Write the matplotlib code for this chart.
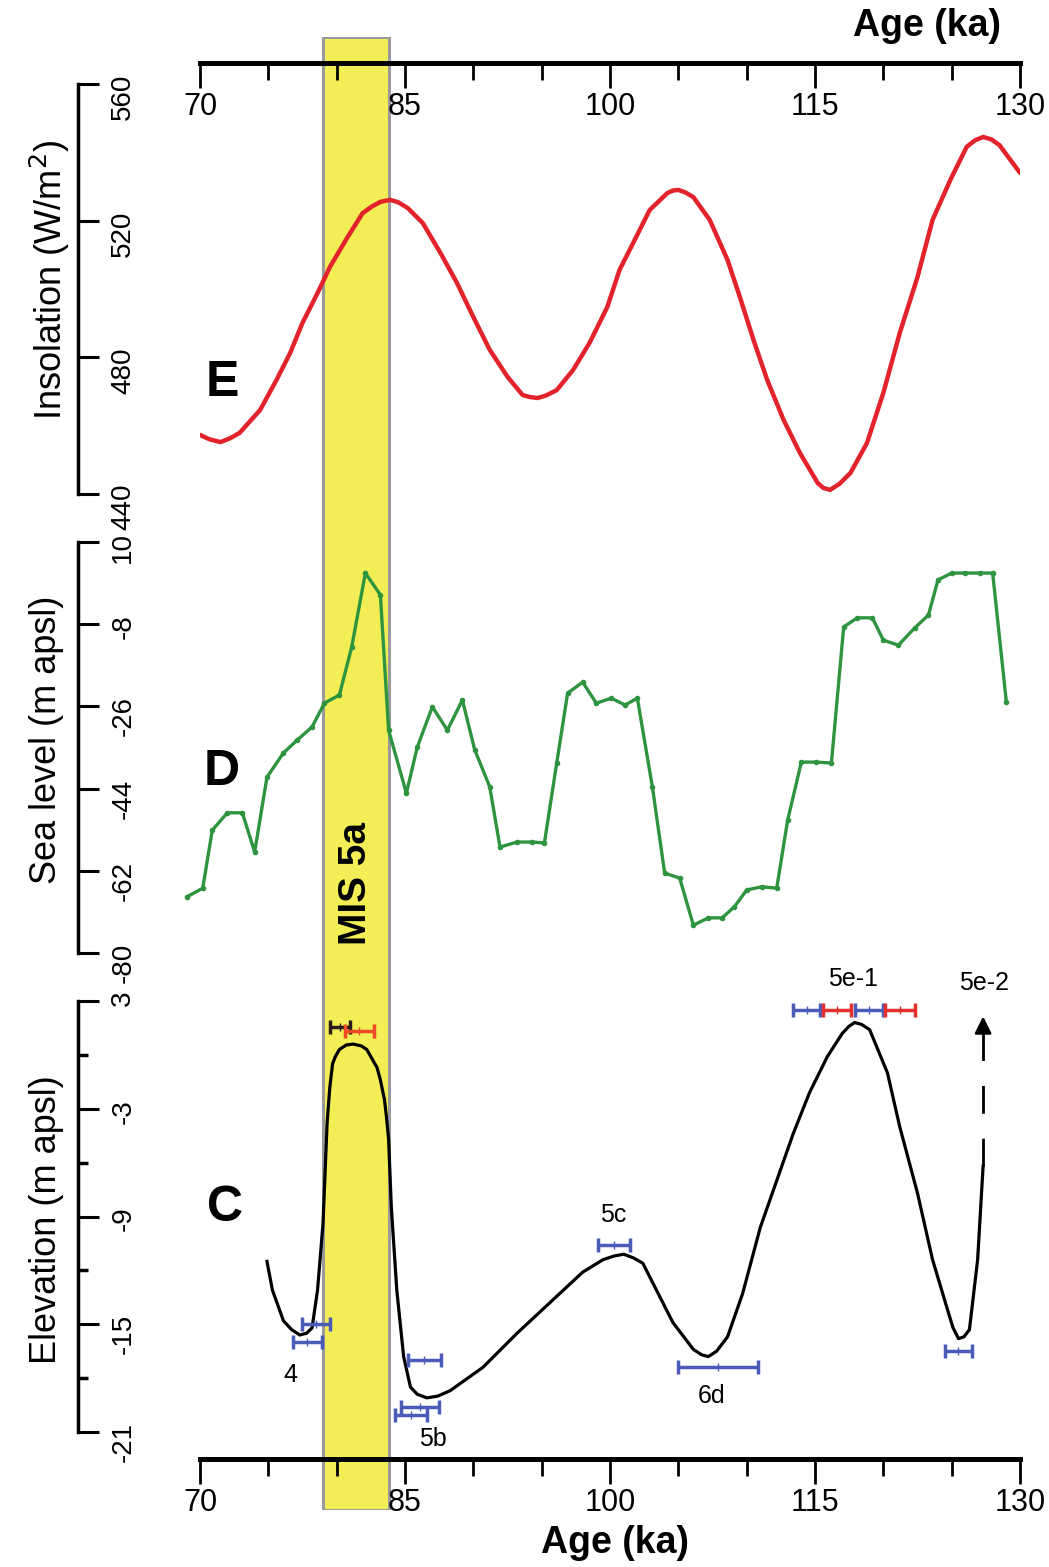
import numpy as np
import matplotlib.pyplot as plt

plt.rcParams['font.family'] = ['Liberation Sans', 'DejaVu Sans']
plt.rcParams['axes.unicode_minus'] = False

# E: insolation (W/m2)
ins_age = [70.0, 70.7, 71.5, 72.2, 72.9, 74.4, 75.6, 76.6, 77.5, 78.6, 79.5, 80.8, 81.9,
           82.6, 83.2, 83.9, 84.5, 85.2, 86.3, 87.6, 88.8, 90.0, 91.2, 92.5, 93.6, 94.1,
           94.7, 95.3, 96.1, 97.3, 98.5, 99.8, 100.7, 101.7, 102.9, 104.2, 104.6, 105.0,
           105.5, 106.1, 107.3, 108.6, 109.5, 110.5, 111.5, 112.7, 113.9, 115.2, 115.6,
           116.1, 116.8, 117.6, 118.8, 120.0, 121.2, 122.5, 123.6, 124.9, 126.1, 126.7,
           127.3, 127.9, 128.5, 130.0]
ins_val = [457.3, 456.0, 455.2, 456.3, 457.9, 464.6, 473.4, 481.3, 490.1, 498.8, 506.4,
           515.2, 522.2, 524.2, 525.5, 526.1, 525.4, 523.7, 519.3, 510.5, 501.8, 491.8,
           482.2, 474.3, 469.0, 468.4, 468.1, 468.8, 470.4, 476.3, 484.2, 494.7, 505.6,
           513.5, 523.1, 528.1, 528.8, 529.0, 528.3, 526.9, 520.2, 508.5, 497.7, 485.1,
           473.4, 461.7, 452.0, 443.2, 441.8, 441.2, 443.0, 446.2, 454.9, 469.6, 487.1,
           503.5, 520.2, 531.9, 541.6, 543.5, 544.5, 543.8, 542.1, 534.0]

# D: sea level (m apsl)
sl_age = [69.05, 70.2, 70.9, 72.0, 73.1, 74.0, 74.9, 76.1, 77.1, 78.2, 79.1, 80.2, 81.1,
          82.1, 83.2, 83.8, 85.1, 85.9, 87.0, 88.1, 89.2, 90.1, 91.2, 91.95, 93.2, 94.3,
          95.2, 96.1, 96.9, 98.0, 99.0, 100.1, 101.1, 102.0, 103.1, 104.0, 105.1, 106.1,
          107.2, 108.2, 109.1, 110.0, 111.1, 112.2, 113.0, 114.0, 115.1, 116.2, 117.1,
          118.1, 119.2, 120.0, 121.1, 122.3, 123.3, 124.0, 125.0, 126.0, 127.1, 128.0, 129.0]
sl_val = [-67.7, -65.8, -53.1, -49.3, -49.3, -57.9, -41.5, -36.2, -33.4, -30.5, -25.3,
          -23.5, -13.0, 3.2, -1.6, -31.2, -45.0, -34.9, -26.1, -31.2, -24.6, -35.5, -43.6,
          -56.8, -55.7, -55.7, -55.9, -38.4, -23.1, -20.7, -25.3, -24.2, -25.7, -24.2,
          -43.6, -62.5, -63.6, -73.9, -72.3, -72.3, -69.9, -66.2, -65.5, -65.8, -50.9,
          -38.2, -38.2, -38.4, -8.6, -6.6, -6.6, -11.5, -12.6, -8.8, -6.0, 1.7, 3.2, 3.2,
          3.2, 3.2, -25.0]

# C: elevation (m apsl)
el_age = [74.9, 75.3, 76.1, 76.7, 77.3, 77.8, 78.2, 78.6, 79.0, 79.3, 79.5, 79.7, 79.9,
          80.2, 80.7, 81.2, 81.8, 82.2, 82.95, 83.2, 83.5, 83.65, 83.8, 84.0, 84.4, 84.9,
          85.4, 85.9, 86.6, 87.4, 88.3, 90.7, 93.2, 95.6, 98.0, 99.5, 100.3, 101.0, 101.7,
          102.4, 103.4, 104.6, 106.1, 106.7, 107.2, 107.8, 108.6, 109.7, 111.0, 112.2,
          113.4, 114.6, 115.9, 117.0, 117.5, 117.9, 118.4, 119.0, 120.3, 121.2, 122.5,
          123.6, 124.7, 125.1, 125.5, 125.9, 126.3, 126.9, 127.3]
el_val = [-11.5, -13.1, -14.8, -15.3, -15.6, -15.5, -15.2, -13.1, -9.4, -3.8, -1.8, -0.5,
          -0.1, 0.3, 0.55, 0.6, 0.5, 0.3, -0.7, -1.4, -2.5, -3.5, -4.7, -8.5, -13.1, -16.8,
          -18.5, -18.9, -19.1, -19.0, -18.7, -17.4, -15.5, -13.8, -12.1, -11.4, -11.2,
          -11.1, -11.3, -11.6, -13.1, -14.9, -16.4, -16.7, -16.8, -16.5, -15.7, -13.3,
          -9.6, -7.0, -4.4, -2.1, -0.1, 1.2, 1.6, 1.8, 1.7, 1.4, -1.0, -4.0, -7.7, -11.4,
          -14.2, -15.2, -15.8, -15.7, -15.3, -11.4, -6.2]

# dating uncertainties (age range, elevation, colour)
bar_lo = [76.8, 77.5, 85.2, 84.7, 84.3, 99.1, 105.0, 124.5, 113.4, 117.9, 115.6, 120.1, 79.5, 80.6]
bar_hi = [78.9, 79.5, 87.6, 87.5, 86.6, 101.5, 110.8, 126.5, 115.4, 120.0, 117.6, 122.3, 81.0, 82.7]
bar_el = [-16.0, -15.0, -17.0, -19.6, -20.05, -10.6, -17.4, -16.5, 2.5, 2.5, 2.5, 2.5, 1.55, 1.35]
bar_col = ['#4B5CB8'] * 10 + ['#E5302E', '#E5302E', '#2a1a1a', '#EE4A2A']

stage_lbl = ['4', '5b', '5c', '6d', '5e-1', '5e-2']
stage_age = [76.6, 87.05, 100.2, 107.4, 117.8, 127.4]
stage_el = [-17.8, -21.4, -8.9, -19.0, 4.2, 4.0]

arrow_age, arrow_from, arrow_to = 127.3, -6.2, 2.3
mis_lo, mis_hi = 79.0, 83.8

W, H = 1049, 1567
fig = plt.figure(figsize=(W / 100, H / 100), dpi=100)


def box(x0, y0, x1, y1):
    return [x0 / W, 1 - y1 / H, (x1 - x0) / W, (y1 - y0) / H]


bg = fig.add_axes(box(200, 37, 1020, 1510), zorder=0)
bg.set_xlim(70, 130)
bg.axis('off')
bg.axvspan(mis_lo, mis_hi, facecolor='#F3EE55', edgecolor='#9a9a9a', lw=2.2)
bg.text((mis_lo + mis_hi) / 2, 0.425, 'MIS 5a', rotation=90, ha='center', va='center',
        fontsize=28, fontweight='bold', transform=bg.get_xaxis_transform())


def panel(y0, y1, ylim, yticks, minor=None):
    ax = fig.add_axes(box(200, y0, 1020, y1), zorder=2)
    ax.patch.set_alpha(0)
    ax.set_xlim(70, 130)
    ax.set_ylim(*ylim)
    for s in ['top', 'right', 'bottom']:
        ax.spines[s].set_visible(False)
    ax.spines['left'].set_position(('axes', -122 / 820))
    ax.spines['left'].set_linewidth(2.5)
    ax.set_xticks([])
    ax.set_yticks(yticks)
    if minor is not None:
        ax.set_yticks(minor, minor=True)
        ax.tick_params(axis='y', which='minor', direction='in', length=7, width=2.5)
    ax.tick_params(axis='y', which='major', direction='in', length=15, width=2.2,
                   labelsize=20, labelrotation=90, pad=-42)
    return ax


# E
axE = panel(84, 494, (440, 560), [440, 480, 520, 560])
axE.plot(ins_age, ins_val, color='#E3232B', lw=3.2, solid_capstyle='round',
         solid_joinstyle='round')
axE.text(0.027, 0.27, 'E', transform=axE.transAxes, fontsize=36, fontweight='bold',
         ha='center', va='center')

# D
axD = panel(542, 953, (-80, 10), [-80, -62, -44, -26, -8, 10])
axD.plot(sl_age, sl_val, color='#2E9440', lw=2.4, marker='o', ms=3, clip_on=False)
axD.text(0.027, 0.44, 'D', transform=axD.transAxes, fontsize=36, fontweight='bold',
         ha='center', va='center')

# C
axC = panel(1001, 1432, (-21, 3), [-21, -15, -9, -3, 3], minor=[-18, -12, -6, 0])
axC.plot(el_age, el_val, color='black', lw=2.3, solid_joinstyle='round')
axC.plot([arrow_age, arrow_age], [arrow_from, arrow_to - 1.0], color='black', lw=2,
         dashes=(10, 9))
axC.annotate('', xy=(arrow_age, arrow_to), xytext=(arrow_age, arrow_to - 1.2),
             arrowprops=dict(arrowstyle='-|>', color='black', lw=2, mutation_scale=25))
for lo, hi, y, c in zip(bar_lo, bar_hi, bar_el, bar_col):
    axC.errorbar((lo + hi) / 2, y, xerr=(hi - lo) / 2, fmt='|', ms=6, color=c,
                 ecolor=c, elinewidth=2.5, capsize=5, capthick=2.5, clip_on=False)
for t, a, e in zip(stage_lbl, stage_age, stage_el):
    axC.text(a, e, t, ha='center', va='center', fontsize=18)
axC.text(0.03, 0.52, 'C', transform=axC.transAxes, fontsize=36, fontweight='bold',
         ha='center', va='center')

# age axes, top and bottom
for yline in (62, 1458):
    ax = fig.add_axes(box(200, yline - 0.5, 1020, yline + 0.5), zorder=1)
    ax.patch.set_alpha(0)
    ax.set_xlim(70, 130)
    for s in ['top', 'right', 'left']:
        ax.spines[s].set_visible(False)
    ax.spines['bottom'].set_linewidth(3.6)
    ax.set_yticks([])
    ax.set_xticks([70, 85, 100, 115, 130])
    ax.set_xticks(np.arange(70, 131, 5), minor=True)
    ax.tick_params(axis='x', which='major', direction='out', length=18, width=2,
                   labelsize=22, pad=3)
    ax.tick_params(axis='x', which='minor', direction='out', length=12, width=2)

fig.text(927 / W, 1 - 26 / H, 'Age (ka)', ha='center', va='center', fontsize=27,
         fontweight='bold')
fig.text(615 / W, 1 - 1543 / H, 'Age (ka)', ha='center', va='center', fontsize=27,
         fontweight='bold')

fig.text(50 / W, 1 - 280 / H, 'Insolation (W/m$^2$)', rotation=90, ha='center',
         va='center', fontsize=26)
fig.text(47 / W, 1 - 740 / H, 'Sea level (m apsl)', rotation=90, ha='center',
         va='center', fontsize=26)
fig.text(47 / W, 1 - 1220 / H, 'Elevation (m apsl)', rotation=90, ha='center',
         va='center', fontsize=26)

fig.savefig('out.png', dpi=100, facecolor='white')
